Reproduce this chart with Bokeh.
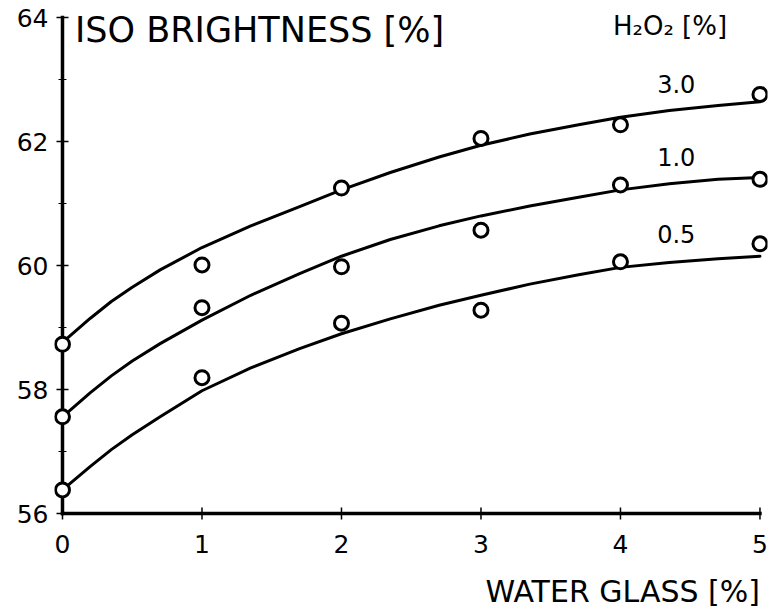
from bokeh.plotting import figure
from bokeh.models import Range1d, FixedTicker, Label
from bokeh.embed import file_html
from bokeh.resources import INLINE
from bokeh.core.properties import value
import math

# ---- data ----
water_glass = [0, 1, 2, 3, 4, 5]
bright_h2o2_30 = [58.73, 60.01, 61.25, 62.05, 62.27, 62.76]
bright_h2o2_10 = [57.56, 59.32, 59.98, 60.57, 61.30, 61.39]
bright_h2o2_05 = [56.38, 58.19, 59.07, 59.28, 60.06, 60.35]

# fitted curves
fit_x = [0, 0.2, 0.35, 0.5, 0.7, 1.0, 1.35, 1.7, 2.0, 2.35, 2.7, 3.0, 3.35, 3.7, 4.0, 4.35, 4.7, 5.0]
fit_30 = [58.76, 59.15, 59.42, 59.65, 59.93, 60.29, 60.64, 60.95, 61.22, 61.50, 61.75, 61.94, 62.12, 62.27, 62.39, 62.50, 62.58, 62.64]
fit_10 = [57.56, 57.95, 58.22, 58.46, 58.74, 59.12, 59.52, 59.87, 60.15, 60.42, 60.64, 60.80, 60.96, 61.10, 61.22, 61.32, 61.39, 61.42]
fit_05 = [56.38, 56.76, 57.03, 57.27, 57.56, 57.98, 58.35, 58.66, 58.90, 59.14, 59.36, 59.52, 59.70, 59.85, 59.97, 60.05, 60.11, 60.15]

series_labels = ["3.0", "1.0", "0.5"]
x_ticks = [0, 1, 2, 3, 4, 5]
x_tick_labels = ["0", "1", "2", "3", "4", "5"]
y_major = [56, 58, 60, 62, 64]
y_minor = [57, 59, 61, 63]

FONT = "DejaVu Sans"

# frame covers the whole lower area so the x axis (drawn by hand) and its title are not clipped
p = figure(width=769, height=615, output_backend="svg", toolbar_location=None,
           x_range=Range1d(-0.0573, 5.054), y_range=Range1d(54.355, 64.097),
           min_border_left=54, min_border_right=2, min_border_top=11,
           min_border_bottom=0)
p.xgrid.visible = False
p.ygrid.visible = False
p.xaxis.visible = False
p.outline_line_color = None
p.background_fill_color = "white"
p.border_fill_color = "white"

ya = p.yaxis[0]
ya.ticker = FixedTicker(ticks=y_major)
ya.axis_line_color = None
ya.major_tick_line_color = None
ya.minor_tick_line_color = None
ya.major_tick_out = 0
ya.major_tick_in = 0
ya.major_label_text_font = FONT
ya.major_label_text_font_size = "25px"
ya.major_label_text_color = "black"
ya.major_label_standoff = 6

y0, y1 = min(y_major), max(y_major)
x0, x1 = min(x_ticks), max(x_ticks)

# axis lines
p.segment(x0=[x0, x0], y0=[y0, y0], x1=[x0, x1], y1=[y1, y0],
          line_width=3.5, line_color="black", line_cap="square")
# y ticks (crossing)
p.scatter(x=[x0] * len(y_major), y=y_major, marker="dash", size=12,
          line_width=1.5, line_color="black")
p.scatter(x=[x0] * len(y_minor), y=y_minor, marker="dash", size=8,
          line_width=1, line_color="black")
# x ticks (crossing)
p.scatter(x=x_ticks, y=[y0] * len(x_ticks), marker="dash", angle=math.pi / 2,
          size=12, line_width=1.5, line_color="black")
# x tick labels
p.text(x=x_ticks, y=[y0] * len(x_ticks), text=x_tick_labels, text_align="center",
       text_baseline="middle", y_offset=30, text_font=value(FONT),
       text_font_size="25px", text_color="black")

# fitted curves
for fy in (fit_30, fit_10, fit_05):
    p.line(fit_x, fy, line_width=3, line_color="black", line_join="round", line_cap="round")

# measured points
for by in (bright_h2o2_30, bright_h2o2_10, bright_h2o2_05):
    p.scatter(water_glass, by, marker="circle", size=14, line_width=3,
              line_color="black", fill_color="white")

# series labels
label_y = [62.93, 61.75, 60.51]
for txt, ly in zip(series_labels, label_y):
    p.add_layout(Label(x=4.40, y=ly, text=txt, text_align="center",
                       text_baseline="alphabetic", text_font=FONT,
                       text_font_size="24px", text_color="black"))

p.add_layout(Label(x=0.09, y=63.80, text="ISO BRIGHTNESS [%]", text_align="left",
                   text_baseline="alphabetic", text_font=FONT,
                   text_font_size="35px", text_color="black"))
p.add_layout(Label(x=3.946, y=63.87, text="H\u2082O\u2082 [%]", text_align="left",
                   text_baseline="alphabetic", text_font=FONT,
                   text_font_size="26px", text_color="black"))
p.add_layout(Label(x=5.0, y=54.745, text="WATER GLASS [%]", text_align="right",
                   text_baseline="alphabetic", text_font=FONT,
                   text_font_size="30px", text_color="black"))

open("out.html", "w").write(file_html(p, INLINE))
